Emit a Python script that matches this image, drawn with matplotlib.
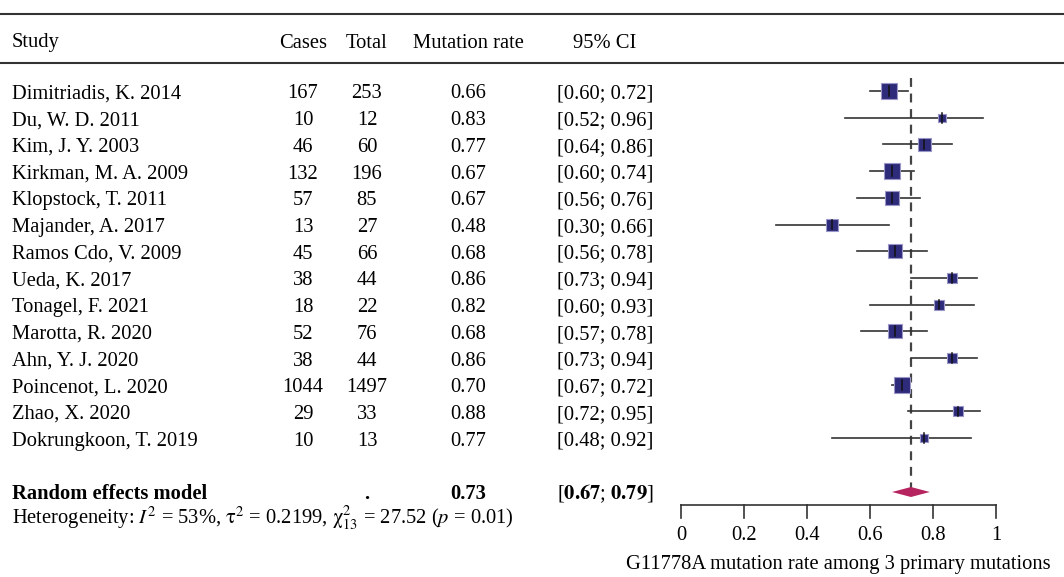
import matplotlib
matplotlib.use("Agg")
import matplotlib.pyplot as plt

plt.rcParams['font.family'] = ['Liberation Serif', 'DejaVu Serif']
plt.rcParams['mathtext.fontset'] = 'stix'

studies = ["Dimitriadis, K. 2014", "Du, W. D. 2011", "Kim, J. Y. 2003", "Kirkman, M. A. 2009",
           "Klopstock, T. 2011", "Majander, A. 2017", "Ramos Cdo, V. 2009", "Ueda, K. 2017",
           "Tonagel, F. 2021", "Marotta, R. 2020", "Ahn, Y. J. 2020", "Poincenot, L. 2020",
           "Zhao, X. 2020", "Dokrungkoon, T. 2019"]
cases = [167, 10, 46, 132, 57, 13, 45, 38, 18, 52, 38, 1044, 29, 10]
totals = [253, 12, 60, 196, 85, 27, 66, 44, 22, 76, 44, 1497, 33, 13]
rates = [0.66, 0.83, 0.77, 0.67, 0.67, 0.48, 0.68, 0.86, 0.82, 0.68, 0.86, 0.70, 0.88, 0.77]
ci_low = [0.60, 0.52, 0.64, 0.60, 0.56, 0.30, 0.56, 0.73, 0.60, 0.57, 0.73, 0.67, 0.72, 0.48]
ci_high = [0.72, 0.96, 0.86, 0.74, 0.76, 0.66, 0.78, 0.94, 0.93, 0.78, 0.94, 0.72, 0.95, 0.92]
weights = [14, 8, 12, 14, 13, 11, 13, 10, 9, 13, 10, 15, 10, 8]  # relative box sizes
pooled = 0.73
pooled_low = 0.67
pooled_high = 0.79
ticks = [0, 0.2, 0.4, 0.6, 0.8, 1]
tick_labels = ["0", "0.2", "0.4", "0.6", "0.8", "1"]
headers = ["Study", "Cases", "Total", "Mutation rate", "95% CI"]
xlabel = "G11778A mutation rate among 3 primary mutations"

W, H = 1064, 577
fig = plt.figure(figsize=(W / 100, H / 100), dpi=100)
ax = fig.add_axes([0, 0, 1, 1])

X0, X1 = 681, 996
scale = X1 - X0
Y0, DY = 91, 26.7


def px(x):
    return (x - X0) / scale


def py(y):
    return (y - Y0) / DY


ax.set_xlim(px(0), px(W))
ax.set_ylim(py(H), py(0))
ax.axis('off')

fs = 14.8
tdy = 3 / DY  # text vertical offset
col_study, col_cases, col_total, col_rate, col_ci = px(12), px(303), px(367), px(468), px(605)

# rules
ax.plot([px(0), px(W)], [py(14), py(14)], color='#333333', lw=1.5)
ax.plot([px(0), px(W)], [py(63), py(63)], color='#333333', lw=1.5)

# headers
hy = py(40) + tdy
ax.text(col_study, hy, headers[0], ha='left', va='center', fontsize=fs)
for cx, h in zip([col_cases, col_total, col_rate, col_ci], headers[1:]):
    ax.text(cx, hy, h, ha='center', va='center', fontsize=fs)

# rows
for i in range(len(studies)):
    y = i
    ty = y + tdy
    ax.text(col_study, ty, studies[i], ha='left', va='center', fontsize=fs)
    ax.text(col_cases, ty, str(cases[i]), ha='center', va='center', fontsize=fs)
    ax.text(col_total, ty, str(totals[i]), ha='center', va='center', fontsize=fs)
    ax.text(col_rate, ty, f"{rates[i]:.2f}", ha='center', va='center', fontsize=fs)
    ax.text(col_ci, ty, f"[{ci_low[i]:.2f}; {ci_high[i]:.2f}]", ha='center', va='center', fontsize=fs)
    ax.plot([ci_low[i], ci_high[i]], [y, y], color='#333333', lw=1.2, zorder=2)
    ax.plot(rates[i], y, marker='s', markersize=weights[i] * 0.78, markerfacecolor='#2E2B7A',
            markeredgecolor='#9A97C8', markeredgewidth=0.8, zorder=3)
    ax.plot([rates[i], rates[i]], [y - 0.18, y + 0.18], color='#111111', lw=1.1, zorder=4)

# pooled row
ry = py(491) + tdy
ax.text(col_study, ry, "Random effects model", ha='left', va='center', fontsize=fs, fontweight='bold')
ax.text(col_total, ry, ".", ha='center', va='center', fontsize=fs, fontweight='bold')
ax.text(col_rate, ry, f"{pooled:.2f}", ha='center', va='center', fontsize=fs, fontweight='bold')
ax.text(col_ci, ry, rf"[$\mathbf{{{pooled_low:.2f}}}$; $\mathbf{{{pooled_high:.2f}}}$]",
        ha='center', va='center', fontsize=fs)
dh = py(497) - py(492)
ax.fill([pooled_low, pooled, pooled_high, pooled], [py(492), py(492) - dh, py(492), py(492) + dh],
        color='#B5245F', zorder=3, lw=0)

ax.text(col_study, py(515) + tdy,
        r"Heterogeneity: $I^2$ = 53%, $\mathrm{\tau}^2$ = 0.2199, $\mathrm{\chi}^2_{13}$ = 27.52 ($p$ = 0.01)",
        ha='left', va='center', fontsize=fs)

# dashed line
ax.plot([pooled, pooled], [py(78), py(497)], color='#444444', lw=1.6, ls=(0, (4, 3)), zorder=1)

# x axis
ay = py(505)
ax.plot([ticks[0], ticks[-1]], [ay, ay], color='#333333', lw=1.2)
for t, lab in zip(ticks, tick_labels):
    ax.plot([t, t], [ay, py(518)], color='#333333', lw=1.2)
    ax.text(t, py(536), lab, ha='center', va='center', fontsize=fs)
ax.text(0.5, py(565), xlabel, ha='center', va='center', fontsize=fs)

fig.savefig("out.png", dpi=100)
